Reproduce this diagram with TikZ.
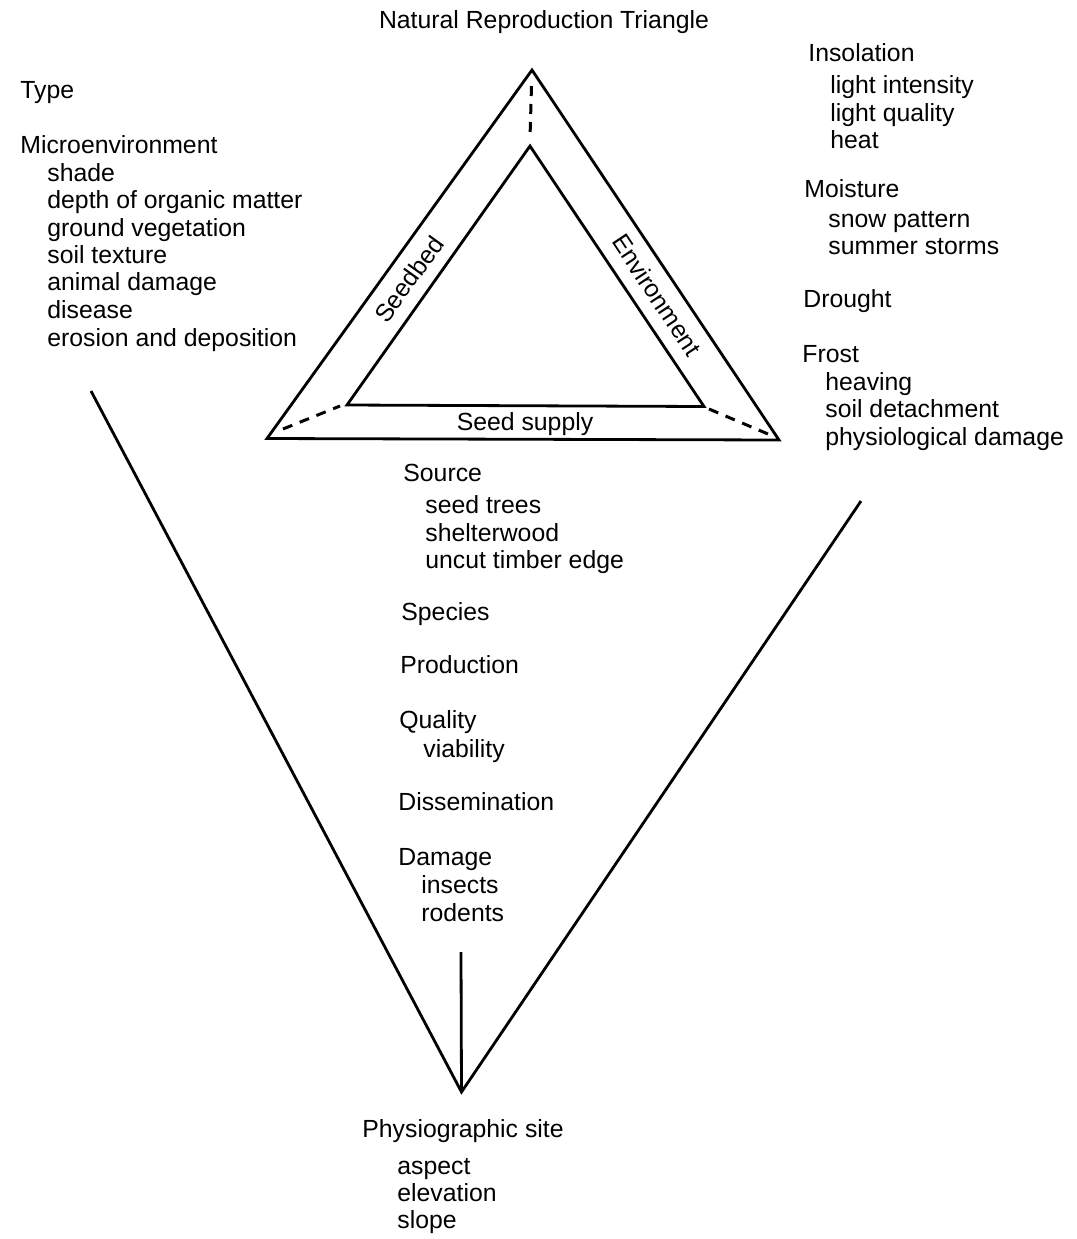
\documentclass[tikz,border=0pt]{standalone}
\usepackage{fontspec}
\setmainfont{Liberation Sans}
\begin{document}
\begin{tikzpicture}[x=0.5pt,y=-0.5pt,
  edge/.style={line width=1.4pt, line join=miter},
  dashline/.style={line width=1.5pt, dash pattern=on 5pt off 4pt},
  lbl/.style={anchor=base west, inner sep=0pt, font=\fontsize{12.4pt}{14pt}\selectfont},
  side/.style={anchor=center, inner sep=0pt, font=\fontsize{12.4pt}{14pt}\selectfont}]
\useasboundingbox (0,0) rectangle (1077,1239);
% triangle vertices
\coordinate (oA) at (532,70);
\coordinate (oL) at (267,438.5);
\coordinate (oR) at (779,440);
\coordinate (iA) at (530,146);
\coordinate (iL) at (347,405);
\coordinate (iR) at (704,406.5);
\draw[edge] (oA) -- (oR) -- (oL) -- cycle;
\draw[edge] (iA) -- (iR) -- (iL) -- cycle;
\coordinate (dA1) at (531.5,86);
\coordinate (dA2) at (530,138);
\coordinate (dL1) at (283,429);
\coordinate (dL2) at (340,406);
\coordinate (dR1) at (709,409);
\coordinate (dR2) at (768,434);
\draw[dashline] (dA1) -- (dA2);
\draw[dashline] (dL1) -- (dL2);
\draw[dashline] (dR1) -- (dR2);
% V
\coordinate (vL) at (91,391);
\coordinate (vR) at (861,501);
\coordinate (vB) at (461.5,1092);
\coordinate (vT) at (461,952);
\draw[edge] (vL) -- (vB) -- (vR);
\draw[edge] (vT) -- (vB);
% side labels
\node[side, rotate=54.3] (seedbed) at (409,279) {Seedbed};
\node[side, rotate=-56.4] (environment) at (657,295) {Environment};
\node[lbl, anchor=base] (seedsupply) at (525,430) {Seed supply};
% title
\node[lbl, anchor=base] (title) at (544,28) {Natural Reproduction Triangle};
% left column
\node[lbl] (type) at (20,98) {Type};
\node[lbl] (micro) at (20,153) {Microenvironment};
\node[lbl] (shade) at (47,181) {shade};
\node[lbl] (depth) at (47,208) {depth of organic matter};
\node[lbl] (ground) at (47,236) {ground vegetation};
\node[lbl] (soil) at (47,263) {soil texture};
\node[lbl] (animal) at (47,290) {animal damage};
\node[lbl] (disease) at (47,318) {disease};
\node[lbl] (erosion) at (47,346) {erosion and deposition};
% right column
\node[lbl] (insol) at (808,61) {Insolation};
\node[lbl] (lint) at (830,93) {light intensity};
\node[lbl] (lqual) at (830,121) {light quality};
\node[lbl] (heat) at (830,148) {heat};
\node[lbl] (moist) at (804,197) {Moisture};
\node[lbl] (snow) at (828,227) {snow pattern};
\node[lbl] (storms) at (828,254) {summer storms};
\node[lbl] (drought) at (803,307) {Drought};
\node[lbl] (frost) at (802,362) {Frost};
\node[lbl] (heaving) at (825,390) {heaving};
\node[lbl] (detach) at (825,417) {soil detachment};
\node[lbl] (physio) at (825,445) {physiological damage};
% center column
\node[lbl] (source) at (403,481) {Source};
\node[lbl] (seedtrees) at (425,513) {seed trees};
\node[lbl] (shelter) at (425,541) {shelterwood};
\node[lbl] (uncut) at (425,568) {uncut timber edge};
\node[lbl] (species) at (401,620) {Species};
\node[lbl] (production) at (400,673) {Production};
\node[lbl] (quality) at (399,728) {Quality};
\node[lbl] (viability) at (423,757) {viability};
\node[lbl] (dissem) at (398,810) {Dissemination};
\node[lbl] (damage) at (398,865) {Damage};
\node[lbl] (insects) at (421,893) {insects};
\node[lbl] (rodents) at (421,921) {rodents};
% bottom
\node[lbl] (site) at (362,1137) {Physiographic site};
\node[lbl] (aspect) at (397,1174) {aspect};
\node[lbl] (elevation) at (397,1201) {elevation};
\node[lbl] (slope) at (397,1228) {slope};
\end{tikzpicture}
\end{document}
